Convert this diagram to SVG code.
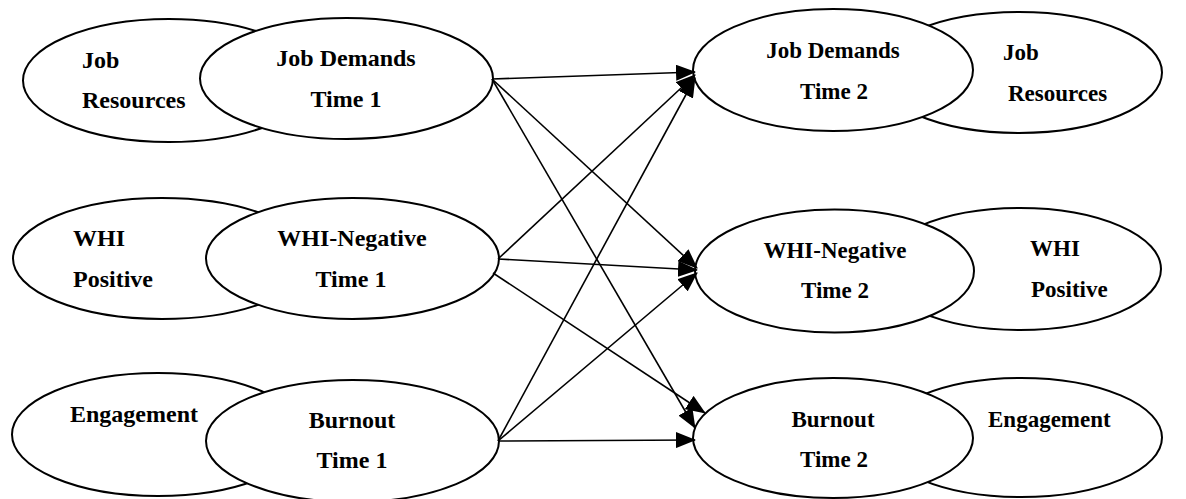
<svg xmlns="http://www.w3.org/2000/svg" width="1186" height="499" viewBox="0 0 1186 499">
<style>
.e{fill:#fff;stroke:#000;stroke-width:2}
.t{font-family:"Liberation Serif","Times New Roman",serif;font-weight:bold;font-size:23px;fill:#000}
.l{font-size:24px}
.m{text-anchor:middle}
.c{stroke:#000;stroke-width:1.6;fill:none;marker-end:url(#ah)}
</style>
<defs>
<marker id="ah" markerUnits="userSpaceOnUse" markerWidth="20" markerHeight="16" refX="19" refY="8" orient="auto">
<path d="M0,0 L20,8 L0,16 z" fill="#000"/>
</marker>
</defs>
<rect width="1186" height="499" fill="#fff"/>
<g id="job-resources-1">
<ellipse class="e" cx="169" cy="80.5" rx="146" ry="61.5"/>
<text class="t l" x="82" y="68">Job</text>
<text class="t l" x="82" y="108">Resources</text>
</g>
<g id="job-demands-1">
<ellipse class="e" cx="346.5" cy="78.5" rx="146.5" ry="60.5"/>
<text class="t l m" x="346" y="66">Job Demands</text>
<text class="t l m" x="346" y="107">Time 1</text>
</g>
<g id="whi-positive-1">
<ellipse class="e" cx="162" cy="258.5" rx="149" ry="60.5"/>
<text class="t l" x="73" y="246">WHI</text>
<text class="t l" x="73" y="287">Positive</text>
</g>
<g id="whi-negative-1">
<ellipse class="e" cx="352.5" cy="258.5" rx="146.5" ry="60.5"/>
<text class="t l m" x="352" y="246">WHI-Negative</text>
<text class="t l m" x="351" y="287">Time 1</text>
</g>
<g id="engagement-1">
<ellipse class="e" cx="158" cy="434.5" rx="146" ry="61.5"/>
<text class="t l" x="70" y="422">Engagement</text>
</g>
<g id="burnout-1">
<ellipse class="e" cx="352.5" cy="441" rx="146.5" ry="61"/>
<text class="t l m" x="352" y="428">Burnout</text>
<text class="t l m" x="352" y="468">Time 1</text>
</g>
<g id="job-resources-2">
<ellipse class="e" cx="1019" cy="72.5" rx="143" ry="60.5"/>
<text class="t" x="1003" y="60">Job</text>
<text class="t" x="1008" y="101">Resources</text>
</g>
<g id="job-demands-2">
<ellipse class="e" cx="833" cy="70" rx="140" ry="61"/>
<text class="t m" x="833" y="58">Job Demands</text>
<text class="t m" x="834" y="99">Time 2</text>
</g>
<g id="whi-positive-2">
<ellipse class="e" cx="1020" cy="269" rx="141" ry="61"/>
<text class="t" x="1030" y="256">WHI</text>
<text class="t" x="1031" y="297">Positive</text>
</g>
<g id="whi-negative-2">
<ellipse class="e" cx="834.5" cy="271" rx="139.5" ry="61.5"/>
<text class="t m" x="835" y="258">WHI-Negative</text>
<text class="t m" x="835" y="298">Time 2</text>
</g>
<g id="engagement-2">
<ellipse class="e" cx="1021" cy="437.5" rx="141" ry="59.5"/>
<text class="t" x="988" y="427">Engagement</text>
</g>
<g id="burnout-2">
<ellipse class="e" cx="833" cy="438" rx="140" ry="60"/>
<text class="t m" x="833" y="427">Burnout</text>
<text class="t m" x="834" y="467">Time 2</text>
</g>
<g id="connectors">
<line class="c" x1="492" y1="79" x2="695" y2="72"/>
<line class="c" x1="498" y1="259" x2="695" y2="75"/>
<line class="c" x1="498" y1="441" x2="695" y2="78"/>
<line class="c" x1="492" y1="79" x2="697" y2="268"/>
<line class="c" x1="498" y1="259" x2="697" y2="270"/>
<line class="c" x1="498" y1="441" x2="697" y2="273"/>
<line class="c" x1="492" y1="79" x2="695" y2="428"/>
<line class="c" x1="493" y1="273" x2="705" y2="413"/>
<line class="c" x1="498" y1="441" x2="695" y2="440"/>
</g>
</svg>
